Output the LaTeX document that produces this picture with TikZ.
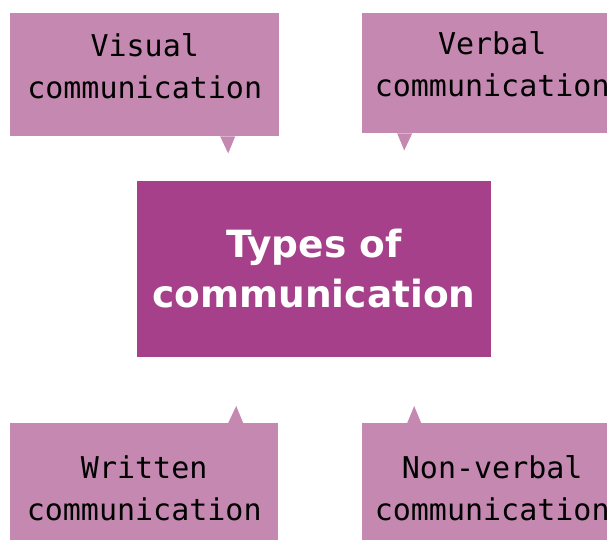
\documentclass[tikz,border=0pt]{standalone}
\usepackage{fontspec}
\setmainfont{DejaVu Sans}
\setmonofont{DejaVu Sans Mono}
\usetikzlibrary{positioning}
\definecolor{boxpink}{HTML}{C589B1}
\definecolor{centerplum}{HTML}{A6408A}

\begin{document}
\begin{tikzpicture}[x=1pt,y=-1pt,
    typebox/.style={fill=boxpink, anchor=north west, inner sep=0pt},
    typetext/.style={align=center, inner sep=0pt, font=\fontsize{30}{42}\selectfont\ttfamily},
    titlebox/.style={fill=centerplum, text=white, inner sep=0pt, align=center,
      minimum width=354pt, minimum height=176pt,
      font=\fontsize{37.5}{50}\selectfont\bfseries}]
    \useasboundingbox (0,0) rectangle (607,539);

    \node[titlebox] (types) at (314,269) {\raisebox{2.5pt}{Types of}\\\raisebox{2.5pt}{communication}};

    \node[typebox, minimum width=269pt, minimum height=123pt,
      label={[typetext,yshift=8pt]center:Visual\\communication}] (visual) at (10,13) {};
    \node[typebox, minimum width=260pt, minimum height=120pt,
      label={[typetext,yshift=9pt]center:Verbal\\communication}] (verbal) at (362,13) {};
    \node[typebox, minimum width=268pt, minimum height=122pt,
      label={[typetext,yshift=-4pt]center:Written\\communication}] (written) at (10,423) {};
    \node[typebox, minimum width=260pt, minimum height=122pt,
      label={[typetext,yshift=-4pt]center:Non-verbal\\communication}] (nonverbal) at (362,423) {};

    % little pointers toward the middle box
    \fill[boxpink] ([xshift=75.5pt]visual.south) -- ++(15,0) -- ++(-7,17) -- cycle;
    \fill[boxpink] ([xshift=-95pt]verbal.south) -- ++(15,0) -- ++(-8,17) -- cycle;
    \fill[boxpink] ([xshift=84pt]written.north) -- ++(15,0) -- ++(-7,-17) -- cycle;
    \fill[boxpink] ([xshift=-85pt]nonverbal.north) -- ++(14,0) -- ++(-7,-17) -- cycle;
\end{tikzpicture}
\end{document}
